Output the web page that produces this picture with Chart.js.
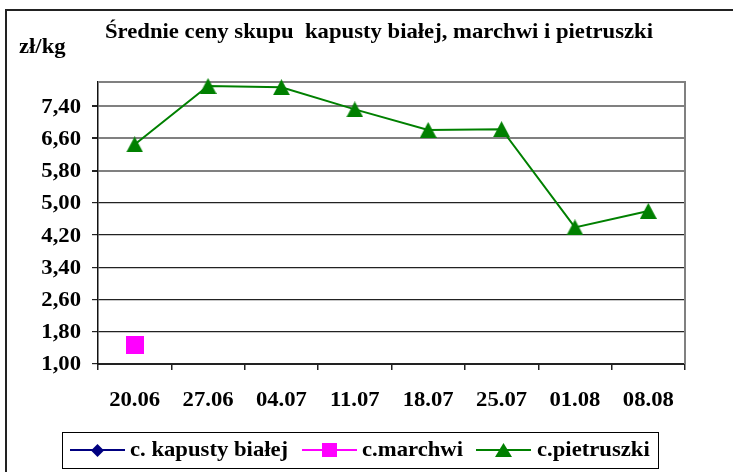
<!DOCTYPE html>
<html>
<head>
<meta charset="utf-8">
<script src="https://cdn.jsdelivr.net/npm/chart.js@4/dist/chart.umd.min.js"></script>
<style>
  html, body { margin: 0; padding: 0; background: #fff; }
  #wrap { width: 733px; height: 472px; }
</style>
</head>
<body>
<div id="wrap"><canvas id="myChart" width="733" height="472"></canvas></div>
<script>
// chart data
const categories = ['20.06', '27.06', '04.07', '11.07', '18.07', '25.07', '01.08', '08.08'];
const kapustaValues = [null, null, null, null, null, null, null, null]; // below the axis, nothing shown
const marchewValues = [1.46, null, null, null, null, null, null, null];
const pietruszkaValues = [6.45, 7.90, 7.87, 7.32, 6.81, 6.83, 4.39, 4.80];
const yTicks = [1.00, 1.80, 2.60, 3.40, 4.20, 5.00, 5.80, 6.60, 7.40];
const yMin = 1.0;
const yMax = 8.0;
const seriesNames = ['c. kapusty białej', 'c.marchwi', 'c.pietruszki'];
const chartTitle = 'Średnie ceny skupu  kapusty białej, marchwi i pietruszki';
const unitLabel = 'zł/kg';

const FONT = '"Liberation Serif", "Times New Roman", serif';
const TEXT_FONT = 'bold 21px ' + FONT;
const STRETCH = 1.08; // the original text is a bit wide

// small canvases used as markers so they sit centred on the value
function makeMarker(kind, color, w, h) {
  const c = document.createElement('canvas');
  c.width = w; c.height = h;
  const g = c.getContext('2d');
  g.fillStyle = color;
  g.beginPath();
  if (kind === 'triangle') {
    g.moveTo(w / 2, 0);
    g.lineTo(w, h);
    g.lineTo(0, h);
  } else if (kind === 'square') {
    g.rect(0, 0, w, h);
  } else {
    g.moveTo(w / 2, 0);
    g.lineTo(w, h / 2);
    g.lineTo(w / 2, h);
    g.lineTo(0, h / 2);
  }
  g.closePath();
  g.fill();
  return c;
}

const series = [
  { data: kapustaValues, color: '#000080',
    marker: makeMarker('diamond', '#000080', 13, 13), legendMarker: makeMarker('diamond', '#000080', 13, 13) },
  { data: marchewValues, color: '#FF00FF',
    marker: makeMarker('square', '#FF00FF', 18, 18), legendMarker: makeMarker('square', '#FF00FF', 15, 14) },
  { data: pietruszkaValues, color: '#008000',
    marker: makeMarker('triangle', '#008000', 17, 16), legendMarker: makeMarker('triangle', '#008000', 17, 14) }
];

function wideText(ctx, text, x, y, align) {
  ctx.save();
  ctx.translate(x, y);
  ctx.scale(STRETCH, 1);
  ctx.textAlign = align;
  ctx.fillText(text, 0, 0);
  ctx.restore();
}

// frame, title, tick labels, plot border and legend box drawn by hand
const decorPlugin = {
  id: 'decor',
  beforeDatasetsDraw(chart) {
    const ctx = chart.ctx;
    const a = chart.chartArea;
    ctx.save();
    ctx.strokeStyle = '#808080';
    ctx.lineWidth = 2;
    ctx.beginPath();
    ctx.moveTo(a.left, a.top);
    ctx.lineTo(a.right, a.top);
    ctx.lineTo(a.right, a.bottom);
    ctx.stroke();
    ctx.restore();
  },
  afterDraw(chart) {
    const ctx = chart.ctx;
    const xs = chart.scales.x;
    const ys = chart.scales.y;
    ctx.save();

    // outer frame (only top and left show in the picture)
    ctx.strokeStyle = '#222';
    ctx.lineWidth = 2;
    ctx.beginPath();
    ctx.moveTo(6, 472);
    ctx.lineTo(6, 10);
    ctx.lineTo(733, 10);
    ctx.stroke();

    ctx.fillStyle = '#000';
    ctx.font = TEXT_FONT;

    // title + unit
    ctx.textBaseline = 'alphabetic';
    wideText(ctx, chartTitle, 105, 38, 'left');
    wideText(ctx, unitLabel, 19, 53, 'left');

    // tick labels
    ctx.textBaseline = 'middle';
    yTicks.forEach(function (v) {
      wideText(ctx, v.toFixed(2).replace('.', ','), 81, ys.getPixelForValue(v) + 1, 'right');
    });
    categories.forEach(function (lab, i) {
      wideText(ctx, lab, xs.getPixelForValue(i), 401, 'center');
    });

    // legend box
    ctx.strokeStyle = '#000';
    ctx.lineWidth = 1;
    ctx.strokeRect(62.5, 432.5, 596, 36);
    const items = [
      { x1: 70, x2: 125, tx: 130 },
      { x1: 302, x2: 357, tx: 362 },
      { x1: 476, x2: 531, tx: 537 }
    ];
    const ly = 450;
    items.forEach(function (it, i) {
      const s = series[i];
      ctx.strokeStyle = s.color;
      ctx.lineWidth = 2;
      ctx.beginPath();
      ctx.moveTo(it.x1, ly);
      ctx.lineTo(it.x2, ly);
      ctx.stroke();
      const m = s.legendMarker;
      const cx = (it.x1 + it.x2) / 2;
      ctx.drawImage(m, Math.round(cx - m.width / 2), Math.round(ly - m.height / 2));
      ctx.fillStyle = '#000';
      wideText(ctx, seriesNames[i], it.tx, ly + 1, 'left');
    });

    ctx.restore();
  }
};

const ctx = document.getElementById('myChart').getContext('2d');
const myChart = new Chart(ctx, {
  type: 'line',
  data: {
    labels: categories,
    datasets: series.map(function (s, i) {
      return {
        label: seriesNames[i],
        data: s.data,
        borderColor: s.color,
        backgroundColor: s.color,
        borderWidth: 2,
        pointStyle: s.marker,
        pointRadius: 9,
        pointHoverRadius: 9,
        tension: 0,
        spanGaps: false,
        clip: false
      };
    })
  },
  options: {
    responsive: false,
    animation: false,
    events: [],
    layout: { padding: { left: 0, right: 48, top: 82, bottom: 0 } },
    plugins: {
      legend: { display: false },
      title: { display: false },
      tooltip: { enabled: false }
    },
    scales: {
      x: {
        type: 'category',
        offset: true,
        grid: {
          offset: true,
          drawOnChartArea: false,
          drawTicks: true,
          tickLength: 6,
          color: '#222',
          lineWidth: 1.5
        },
        border: { color: '#222', width: 2 },
        ticks: { display: false, autoSkip: false },
        afterFit: function (scale) { scale.height = 472 - 364; }
      },
      y: {
        min: yMin,
        max: yMax,
        afterBuildTicks: function (scale) {
          scale.ticks = yTicks.map(function (v) { return { value: v }; });
        },
        grid: {
          color: function (c) {
            return c.tick && c.tick.value >= 5.79 ? '#808080' : '#222';
          },
          lineWidth: function (c) {
            return c.tick && c.tick.value >= 5.79 ? 2 : 1.2;
          },
          tickColor: '#222',
          tickLength: 6
        },
        border: { color: '#111', width: 1.5 },
        ticks: { display: false },
        afterFit: function (scale) { scale.width = 98; }
      }
    }
  },
  plugins: [decorPlugin]
});
</script>
</body>
</html>
